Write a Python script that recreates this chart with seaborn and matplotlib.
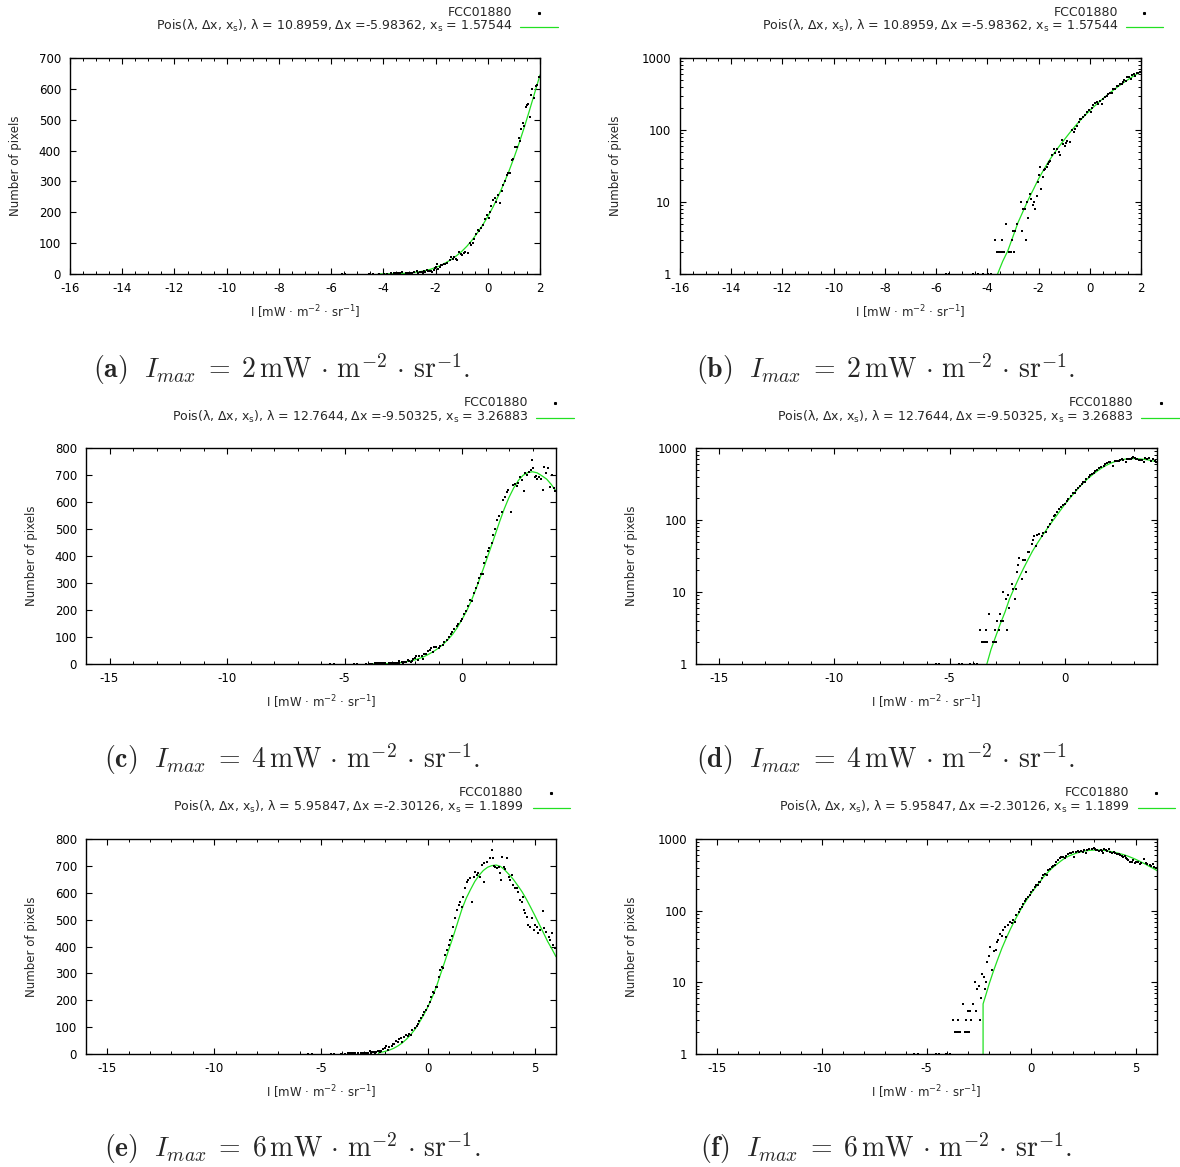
import numpy as np
import pandas as pd
import matplotlib
matplotlib.use("Agg")
import matplotlib.pyplot as plt
import seaborn as sns
from matplotlib.lines import Line2D
from matplotlib.ticker import FixedLocator, MultipleLocator, NullFormatter, NullLocator

# ---------------------------------------------------------------- data
# Histogram of pixel intensities (bin centre, count) for each I_max cut
hist_2_x = [-5.60, -5.48, -4.55, -4.38, -4.18, -3.99, -3.86, -3.70, -3.61, -3.54,
            -3.48, -3.44, -3.41, -3.35, -3.27, -3.15, -3.09, -3.05, -3.00, -2.96,
            -2.92, -2.83, -2.70, -2.66, -2.59, -2.53, -2.49, -2.44, -2.40, -2.33,
            -2.30, -2.23, -2.16, -2.14, -2.07, -2.04, -1.99, -1.94, -1.90, -1.84,
            -1.78, -1.74, -1.68, -1.62, -1.58, -1.55, -1.46, -1.39, -1.34, -1.29,
            -1.22, -1.16, -1.09, -1.03, -0.97, -0.92, -0.87, -0.77, -0.70, -0.63,
            -0.57, -0.51, -0.44, -0.38, -0.33, -0.27, -0.18, -0.12, -0.03, 0.03,
            0.08, 0.14, 0.21, 0.27, 0.33, 0.38, 0.47, 0.53, 0.60, 0.66,
            0.73, 0.79, 0.86, 0.92, 0.98, 1.05, 1.12, 1.18, 1.24, 1.29,
            1.34, 1.40, 1.45, 1.50, 1.55, 1.60, 1.64, 1.71, 1.77, 1.84,
            1.90, 1.97]
hist_2_n = [1, 1, 1, 1, 1, 1, 1, 3, 2, 2,
            2, 3, 2, 2, 5, 2, 2, 3, 4, 2,
            4, 5, 10, 4, 8, 8, 3, 10, 6, 13,
            11, 9, 10, 8, 12, 19, 24, 31, 15, 22,
            28, 29, 31, 34, 36, 37, 45, 54, 48, 55,
            50, 45, 72, 64, 60, 67, 70, 68, 100, 95,
            102, 114, 130, 144, 140, 150, 160, 178, 191, 180,
            200, 220, 240, 245, 232, 255, 230, 268, 290, 300,
            320, 326, 326, 370, 372, 410, 410, 440, 430, 470,
            490, 480, 540, 548, 550, 508, 580, 600, 570, 610,
            612, 640]

hist_4_x = [-5.60, -5.45, -4.60, -4.45, -4.10, -3.92, -3.83, -3.70, -3.60, -3.53,
            -3.46, -3.44, -3.38, -3.27, -3.12, -3.05, -3.02, -2.98, -2.95, -2.85,
            -2.81, -2.76, -2.69, -2.66, -2.55, -2.49, -2.47, -2.40, -2.30, -2.26,
            -2.18, -2.13, -2.08, -2.01, -1.97, -1.87, -1.82, -1.72, -1.68, -1.61,
            -1.55, -1.43, -1.36, -1.32, -1.24, -1.19, -1.10, -1.00, -0.93, -0.81,
            -0.75, -0.64, -0.56, -0.46, -0.42, -0.35, -0.23, -0.17, -0.06, 0.01,
            0.09, 0.16, 0.26, 0.35, 0.43, 0.49, 0.59, 0.66, 0.74, 0.81,
            0.88, 0.93, 1.03, 1.10, 1.17, 1.26, 1.33, 1.40, 1.50, 1.59,
            1.69, 1.76, 1.83, 1.90, 1.97, 2.07, 2.16, 2.26, 2.33, 2.40,
            2.47, 2.54, 2.64, 2.70, 2.78, 2.87, 2.92, 2.98, 3.04, 3.11,
            3.15, 3.21, 3.26, 3.35, 3.43, 3.49, 3.57, 3.67, 3.74, 3.82,
            3.91, 3.97]
hist_4_n = [1, 1, 1, 1, 1, 1, 1, 3, 2, 2,
            2, 3, 2, 5, 2, 2, 3, 2, 4, 3,
            5, 4, 10, 4, 8, 3, 9, 6, 13, 11,
            8, 11, 19, 24, 30, 15, 28, 28, 19, 36,
            36, 47, 53, 59, 44, 62, 64, 60, 66, 69,
            80, 88, 100, 112, 118, 128, 140, 150, 160, 168,
            185, 195, 215, 238, 235, 262, 280, 300, 320, 335,
            332, 375, 395, 420, 430, 447, 478, 499, 533, 548,
            564, 607, 620, 638, 644, 564, 663, 667, 659, 672,
            694, 681, 642, 706, 700, 710, 719, 756, 725, 694,
            696, 684, 691, 684, 644, 731, 706, 725, 657, 700,
            651, 640]

hist_6_x = [-5.60, -5.42, -4.55, -4.40, -4.05, -3.90, -3.74, -3.62, -3.55, -3.50,
            -3.47, -3.39, -3.26, -3.15, -3.11, -3.07, -3.02, -2.99, -2.94, -2.89,
            -2.78, -2.70, -2.65, -2.59, -2.51, -2.47, -2.42, -2.34, -2.27, -2.23,
            -2.18, -2.11, -2.02, -1.96, -1.88, -1.80, -1.70, -1.64, -1.57, -1.48,
            -1.41, -1.35, -1.27, -1.22, -1.11, -1.00, -0.94, -0.87, -0.80, -0.72,
            -0.60, -0.52, -0.46, -0.40, -0.32, -0.24, -0.16, -0.08, 0.00, 0.08,
            0.16, 0.24, 0.30, 0.37, 0.42, 0.50, 0.58, 0.66, 0.73, 0.81,
            0.89, 0.97, 1.05, 1.12, 1.20, 1.28, 1.36, 1.44, 1.51, 1.59,
            1.67, 1.75, 1.83, 1.90, 1.98, 2.06, 2.14, 2.22, 2.29, 2.37,
            2.45, 2.53, 2.61, 2.65, 2.76, 2.89, 2.99, 3.04, 3.10, 3.15,
            3.23, 3.31, 3.39, 3.43, 3.49, 3.57, 3.63, 3.70, 3.78, 3.85,
            3.95, 4.01, 4.09, 4.17, 4.24, 4.32, 4.40, 4.45, 4.51, 4.57,
            4.63, 4.71, 4.79, 4.87, 4.95, 5.02, 5.10, 5.18, 5.26, 5.38,
            5.46, 5.54, 5.65, 5.73, 5.80, 5.88, 5.96]
hist_6_n = [1, 1, 1, 1, 1, 1, 3, 2, 2, 3,
            2, 2, 5, 2, 3, 2, 4, 2, 4, 3,
            5, 10, 4, 8, 9, 3, 6, 13, 12, 8,
            10, 19, 23, 31, 15, 27, 28, 37, 39, 48,
            45, 54, 60, 43, 63, 70, 68, 74, 70, 88,
            95, 105, 112, 122, 135, 145, 155, 165, 180, 195,
            212, 230, 228, 248, 251, 288, 313, 325, 319, 368,
            387, 406, 424, 439, 474, 505, 536, 555, 567, 548,
            586, 617, 641, 648, 654, 567, 660, 679, 666, 672,
            660, 703, 641, 710, 716, 728, 759, 728, 700, 697,
            691, 697, 672, 648, 734, 697, 690, 728, 660, 648,
            666, 629, 617, 617, 604, 573, 567, 586, 536, 524,
            511, 480, 474, 505, 462, 480, 474, 449, 462, 532,
            468, 455, 437, 424, 449, 406, 393]

# Fitted shifted-Poisson curves (sampled)
fit_2_x = [-4.2, -4.0, -3.8, -3.6, -3.4, -3.2, -3.0, -2.8, -2.6, -2.4,
           -2.2, -2.0, -1.8, -1.6, -1.4, -1.2, -1.0, -0.8, -0.6, -0.4,
           -0.2, 0.0, 0.2, 0.4, 0.6, 0.8, 1.0, 1.2, 1.4, 1.6, 1.8, 2.0]
fit_2_y = [0.15, 0.3, 0.6, 1.0, 1.5, 2.1, 3.3, 5.2, 7.5, 10.8,
           15, 21, 28, 37, 47, 59, 73, 90, 110, 133,
           158, 186, 217, 252, 290, 331, 376, 424, 476, 531, 588, 645]

fit_4_x = [-3.8, -3.6, -3.4, -3.2, -3.0, -2.8, -2.6, -2.4, -2.2, -2.0,
           -1.8, -1.6, -1.4, -1.2, -1.0, -0.8, -0.6, -0.4, -0.2, 0.0,
           0.2, 0.4, 0.6, 0.8, 1.0, 1.2, 1.4, 1.6, 1.8, 2.0,
           2.2, 2.4, 2.6, 2.8, 3.0, 3.2, 3.4, 3.6, 3.8, 4.0]
fit_4_y = [0.35, 0.6, 0.95, 1.6, 2.4, 3.6, 5.2, 8.0, 11.2, 15.5,
           21, 28, 37, 47, 59, 73, 90, 110, 135, 165,
           197, 235, 279, 327, 375, 425, 476, 527, 575, 617,
           652, 680, 699, 709, 712, 708, 697, 685, 665, 640]

fit_6_x = [-2.3, -2.3, -2.2, -2.0, -1.8, -1.6, -1.4, -1.2, -1.0, -0.8,
           -0.6, -0.4, -0.2, 0.0, 0.2, 0.4, 0.6, 0.8, 1.0, 1.2,
           1.4, 1.6, 1.8, 2.0, 2.2, 2.4, 2.6, 2.8, 3.0, 3.2,
           3.4, 3.6, 3.8, 4.0, 4.2, 4.4, 4.6, 4.8, 5.0, 5.2,
           5.4, 5.6, 5.8, 6.0]
fit_6_y = [0.001, 5.0, 6.2, 9.7, 14.5, 21, 30, 41, 55, 72,
           92, 117, 144, 175, 210, 250, 298, 345, 393, 440,
           490, 540, 580, 612, 642, 665, 683, 695, 701, 703,
           698, 685, 668, 650, 628, 605, 578, 548, 517, 485,
           453, 420, 392, 362]

# Fit parameters (lambda, delta x, x_s) and the upper intensity cut
fit_params = [(10.8959, -5.98362, 1.57544),
              (12.7644, -9.50325, 3.26883),
              (5.95847, -2.30126, 1.1899)]
i_max = [2, 4, 6]
series_name = "FCC01880"

# ---------------------------------------------------------------- style
sns.set_style("ticks")
plt.rcParams.update({
    "font.family": ["DejaVu Sans"],
    "font.size": 8.5,
    "axes.linewidth": 1.0,
    "axes.edgecolor": "black",
    "xtick.direction": "in",
    "ytick.direction": "in",
    "xtick.top": True,
    "ytick.right": True,
    "xtick.color": "black",
    "ytick.color": "black",
    "xtick.labelsize": 8.5,
    "ytick.labelsize": 8.5,
    "mathtext.fontset": "dejavusans",
})

GREEN = "#22e022"
KEY_FS = 9.0
W, H = 1180, 1167
fig = plt.figure(figsize=(W / 100, H / 100), dpi=100)


def fx(px):
    return px / W


def fy(py):
    return 1 - py / H


# axes boxes in pixels: left, top, right, bottom
boxes = {
    "a": (70, 58, 540, 274), "b": (680, 58, 1141, 274),
    "c": (86, 448, 556, 664), "d": (696, 448, 1157, 664),
    "e": (86, 839, 556, 1054), "f": (696, 839, 1157, 1054),
}
ylabel_px = {"a": 16, "b": 616, "c": 31, "d": 632, "e": 31, "f": 632}

xlabel_text = r"I [mW · m$^\mathregular{-2}$ · sr$^\mathregular{-1}$]"


def make_axes(key):
    l, t, r, b = boxes[key]
    return fig.add_axes([fx(l), fy(b), fx(r - l), (b - t) / H])


def draw(key, hx, hn, fxs, fys, log, xmax, xmaj, xmin_step, ymax):
    ax = make_axes(key)
    sns.lineplot(x=fxs, y=fys, ax=ax, color=GREEN, linewidth=0.9,
                 estimator=None, sort=False, zorder=2)
    sns.scatterplot(x=hx, y=hn, ax=ax, color="black", marker="s", s=2.6,
                    linewidth=0, zorder=3)
    ax.set_xlim(-16, xmax)
    ax.xaxis.set_major_locator(FixedLocator(xmaj))
    ax.xaxis.set_minor_locator(MultipleLocator(xmin_step))
    ax.set_xticklabels([f"{v:g}" for v in xmaj])
    if log:
        ax.set_yscale("log")
        ax.set_ylim(1, 1000)
        ax.yaxis.set_major_locator(FixedLocator([1, 10, 100, 1000]))
        ax.set_yticklabels(["1", "10", "100", "1000"])
        minors = [m * 10 ** d for d in range(3) for m in range(2, 10)]
        ax.yaxis.set_minor_locator(FixedLocator(minors))
        ax.yaxis.set_minor_formatter(NullFormatter())
    else:
        ax.set_ylim(0, ymax)
        ax.yaxis.set_major_locator(MultipleLocator(100))
        ax.yaxis.set_minor_locator(NullLocator())
    ax.tick_params(which="major", length=4.3, width=0.8, pad=6)
    ax.tick_params(which="minor", length=2.2, width=0.7)
    ax.tick_params(axis="y", which="major", pad=6.5)
    for s in ax.spines.values():
        s.set_visible(True)
        s.set_linewidth(1.0)

    l, t, r, b = boxes[key]
    ax.set_xlabel(xlabel_text, fontsize=8.5, va="center")
    ax.xaxis.set_label_coords(0.5, -38 / (b - t))
    ax.set_ylabel("Number of pixels", fontsize=8.5, va="center", ha="center")
    ax.yaxis.set_label_coords((ylabel_px[key] - l) / (r - l), 0.5)
    return ax


def key_block(text_right, dot_x, line_x0, line_x1, base1, base2, params):
    lam, dx, xs = params
    fig.text(fx(text_right), fy(base1), series_name, ha="right",
             va="baseline", fontsize=KEY_FS)
    label = (r"Pois(λ, Δx, x$_\mathregular{s}$), "
             f"λ = {lam:g}, Δx ={dx:g}, "
             r"x$_\mathregular{s}$" f" = {xs:g}")
    fig.text(fx(text_right), fy(base2), label, ha="right", va="baseline",
             fontsize=KEY_FS)
    fig.add_artist(Line2D([fx(dot_x)], [fy(base1 - 3.5)], marker="s",
                          markersize=1.2, color="black", linewidth=0,
                          transform=fig.transFigure))
    fig.add_artist(Line2D([fx(line_x0), fx(line_x1)],
                          [fy(base2 - 3.5), fy(base2 - 3.5)], color=GREEN,
                          linewidth=0.9, transform=fig.transFigure))


def caption(letter, xc, base, imax):
    txt = (r"$\mathbf{(" + letter + r")}\ \ I_{max}\;=\;" + str(imax)
           + r"\,\mathrm{mW}\,\cdot\,\mathrm{m}^{-2}\,\cdot\,"
           + r"\mathrm{sr}^{-1}.$")
    fig.text(fx(xc), fy(base), txt, ha="center", va="baseline",
             fontsize=20, math_fontfamily="cm")


# row 1: I_max = 2
draw("a", hist_2_x, hist_2_n, fit_2_x, fit_2_y, False, 2,
     list(range(-16, 3, 2)), 0.5, 700)
draw("b", hist_2_x, hist_2_n, fit_2_x, fit_2_y, True, 2,
     list(range(-16, 3, 2)), 0.5, None)
# row 2: I_max = 4
draw("c", hist_4_x, hist_4_n, fit_4_x, fit_4_y, False, 4,
     [-15, -10, -5, 0], 1, 800)
draw("d", hist_4_x, hist_4_n, fit_4_x, fit_4_y, True, 4,
     [-15, -10, -5, 0], 1, None)
# row 3: I_max = 6
draw("e", hist_6_x, hist_6_n, fit_6_x, fit_6_y, False, 6,
     [-15, -10, -5, 0, 5], 1, 800)
draw("f", hist_6_x, hist_6_n, fit_6_x, fit_6_y, True, 6,
     [-15, -10, -5, 0, 5], 1, None)

key_block(512, 539, 520, 558, 16, 30, fit_params[0])
key_block(1118, 1144, 1126, 1163, 16, 30, fit_params[0])
key_block(528, 555, 536, 574, 406, 421, fit_params[1])
key_block(1133, 1161, 1141, 1180, 406, 421, fit_params[1])
key_block(523, 551, 533, 570, 796, 811, fit_params[2])
key_block(1129, 1156, 1138, 1175, 796, 811, fit_params[2])

caption("a", 282, 378, i_max[0])
caption("b", 886, 378, i_max[0])
caption("c", 292, 768, i_max[1])
caption("d", 886, 768, i_max[1])
caption("e", 292, 1157, i_max[2])
caption("f", 886, 1157, i_max[2])

fig.savefig("out.png", dpi=100, facecolor="white")
